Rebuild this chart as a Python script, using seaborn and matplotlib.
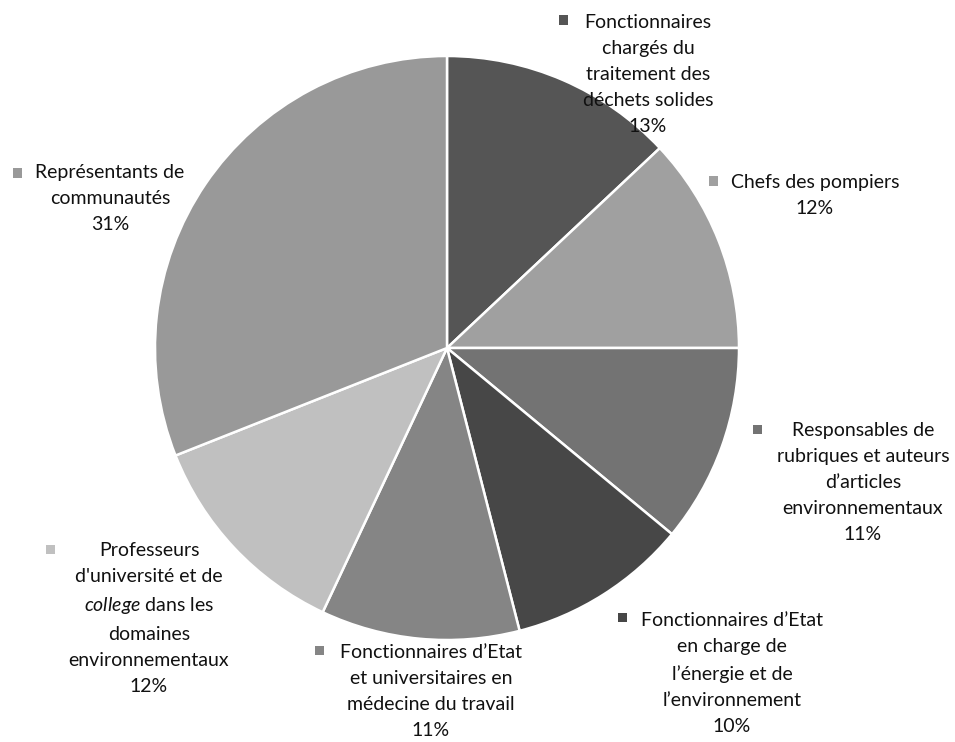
import matplotlib
matplotlib.use("Agg")
import matplotlib.pyplot as plt
import seaborn as sns
from matplotlib.patches import Rectangle

# Data
categories = [
    "Fonctionnaires chargés du traitement des déchets solides",
    "Chefs des pompiers",
    "Responsables de rubriques et auteurs d’articles environnementaux",
    "Fonctionnaires d’Etat en charge de l’énergie et de l’environnement",
    "Fonctionnaires d’Etat et universitaires en médecine du travail",
    "Professeurs d'université et de college dans les domaines environnementaux",
    "Représentants de communautés",
]
wrapped = [
    "Fonctionnaires\nchargés du\ntraitement des\ndéchets solides",
    "Chefs des pompiers",
    "Responsables de\nrubriques et auteurs\nd’articles\nenvironnementaux",
    "Fonctionnaires d’Etat\nen charge de\nl’énergie et de\nl’environnement",
    "Fonctionnaires d’Etat\net universitaires en\nmédecine du travail",
    "Professeurs\nd'université et de\n$\\mathit{college}$ dans les\ndomaines\nenvironnementaux",
    "Représentants de\ncommunautés",
]
values = [13, 12, 11, 10, 11, 12, 31]
colors = ["#555555", "#a0a0a0", "#737373", "#474747", "#858585", "#c0c0c0", "#999999"]

sns.set_theme(style="white")
plt.rcParams['font.family'] = ['Lato', 'DejaVu Sans']
plt.rcParams['mathtext.fontset'] = 'custom'
plt.rcParams['mathtext.rm'] = 'Lato'
plt.rcParams['mathtext.it'] = 'Lato:italic'

W, H = 955, 742
fig = plt.figure(figsize=(W / 100, H / 100), dpi=100)
cx, cy, r = 447, 348, 292
ax = fig.add_axes([(cx - r) / W, 1 - (cy + r) / H, 2 * r / W, 2 * r / H])
ax.pie(values, colors=colors, startangle=90, counterclock=False,
       wedgeprops=dict(edgecolor="white", linewidth=1.8))
ax.set_xlim(-1, 1)
ax.set_ylim(-1, 1)

# label layout in pixels: text centre x, first line centre y, marker x, marker y
layout = [(648, 22, 563, 20), (815, 182, 713, 181), (863, 430, 757, 429),
          (732, 620, 622, 617), (431, 652, 319, 650), (149, 550, 50, 549),
          (110, 172, 17, 173)]

for lab, v, col, (tx, ty, mx, my) in zip(wrapped, values, colors, layout):
    fig.text(tx / W, 1 - (ty - 8) / H, f"{lab}\n{v}%", ha="center", va="top",
             multialignment="center", fontsize=14, color="#111111", linespacing=1.65)
    s = 9
    fig.add_artist(Rectangle(((mx - s / 2) / W, 1 - (my + s / 2) / H), s / W, s / H,
                             transform=fig.transFigure, color=col, lw=0))

fig.savefig("out.png", dpi=100, facecolor="white")
